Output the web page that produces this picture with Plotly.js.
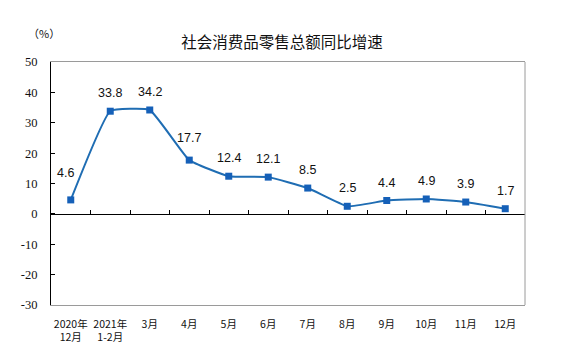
<!DOCTYPE html>
<html>
<head>
<meta charset="utf-8">
<script src="https://cdn.plot.ly/plotly-3.0.1.min.js"></script>
<style>html,body{margin:0;padding:0;background:#fff;}#chart{width:564px;height:363px;}</style>
</head>
<body>
<div id="chart"></div>
<script>
const categories = ['2020年<br>12月', '2021年<br>1-2月', '3月', '4月', '5月', '6月', '7月', '8月', '9月', '10月', '11月', '12月'];
const growth = [4.6, 33.8, 34.2, 17.7, 12.4, 12.1, 8.5, 2.5, 4.4, 4.9, 3.9, 1.7];
const yTicks = [-30, -20, -10, 0, 10, 20, 30, 40, 50];
const yTickLabels = ['-30', '-20', '-10', '0', '10', '20', '30', '40', '50'];
const titleText = '社会消费品零售总额同比增速';
const unitText = '（%）';

const lineTrace = {
  x: categories, y: growth, xaxis: 'x', yaxis: 'y',
  type: 'scatter', mode: 'lines+markers',
  line: {color: '#1f6db3', width: 2, shape: 'spline', smoothing: 0.35},
  marker: {symbol: 'square', size: 7, color: '#1560b8'},
  hoverinfo: 'skip'
};
// invisible companion trace that carries the zero-line axis (xaxis2)
const zeroAxisTrace = {
  x: categories, y: growth, xaxis: 'x2', yaxis: 'y',
  type: 'scatter', mode: 'markers',
  marker: {size: 1, color: 'rgba(0,0,0,0)'},
  hoverinfo: 'skip'
};

const catRange = [-0.5, categories.length - 0.5];

const labelAnnotations = growth.map((v, i) => ({
  x: categories[i], y: v, xref: 'x', yref: 'y',
  text: v.toFixed(1), showarrow: false,
  xanchor: 'center', yanchor: 'middle',
  yshift: i === 0 ? 27 : (i === 3 ? 22 : 18), xshift: i === 0 ? -5 : 0,
  font: {family: 'Liberation Sans, Arial, sans-serif', size: 12.5, color: '#111'}
}));

const layout = {
  width: 564, height: 363,
  margin: {l: 51, r: 39, t: 62, b: 58},
  paper_bgcolor: '#fff', plot_bgcolor: '#fff',
  showlegend: false,
  title: {text: titleText, xref: 'container', x: 0.5, xanchor: 'center', yref: 'container', y: 1 - 43/363, yanchor: 'middle',
          font: {family: 'Noto Sans CJK SC, sans-serif', size: 15.5, color: '#111'}},
  xaxis: {
    type: 'category', categoryorder: 'array', categoryarray: categories, range: catRange,
    showline: true, linecolor: '#9a9a9a', linewidth: 1, mirror: true,
    ticks: '', showgrid: false, zeroline: false,
    tickfont: {family: 'Noto Sans CJK SC, sans-serif', size: 10.5, color: '#111'},
    ticklabelstandoff: 9, fixedrange: true
  },
  xaxis2: {
    type: 'category', categoryorder: 'array', categoryarray: categories, range: catRange,
    overlaying: 'x', anchor: 'free', position: 0.375,
    showline: true, linecolor: '#000', linewidth: 1,
    ticks: 'inside', tickson: 'boundaries', ticklen: 4, tickcolor: '#000', tickwidth: 1,
    showticklabels: false, showgrid: false, zeroline: false, fixedrange: true
  },
  yaxis: {
    range: [-30, 50], tickmode: 'array', tickvals: yTicks, ticktext: yTickLabels,
    showline: true, linecolor: '#000', linewidth: 1,
    ticks: 'inside', ticklen: 4, tickcolor: '#000',
    showgrid: false, zeroline: false,
    tickfont: {family: 'Liberation Serif, Times New Roman, serif', size: 12.5, color: '#111'},
    ticklabelstandoff: 10, fixedrange: true
  },
  shapes: [{type: 'line', xref: 'paper', yref: 'paper', x0: 1, x1: 1, y0: 0, y1: 1, line: {color: '#9a9a9a', width: 1}}],
  annotations: [{text: unitText, xref: 'paper', yref: 'paper', x: -0.015, y: 1.12, xanchor: 'center', yanchor: 'middle',
                 showarrow: false, font: {family: 'Noto Sans CJK SC, sans-serif', size: 11, color: '#111'}}].concat(labelAnnotations)
};

Plotly.newPlot('chart', [lineTrace, zeroAxisTrace], layout, {displayModeBar: false, staticPlot: true});
</script>
</body>
</html>
